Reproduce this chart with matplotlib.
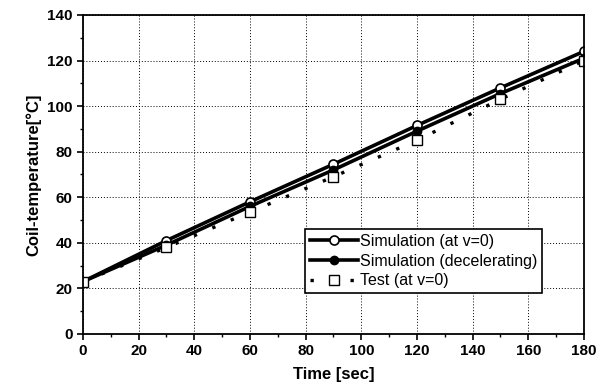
import matplotlib
matplotlib.use("Agg")
import matplotlib.pyplot as plt
from matplotlib.ticker import MultipleLocator

# data
time_s = [0, 30, 60, 90, 120, 150, 180]
sim_v0 = [23, 41, 58, 74.5, 91.5, 108, 124]
sim_decel = [23, 39, 56, 72, 89, 105.5, 121]
test_v0 = [23, 38, 53.5, 69, 85, 103, 120]

plt.rcParams["font.family"] = ["Liberation Sans", "DejaVu Sans"]

fig = plt.figure(figsize=(5.97, 3.90), dpi=100)
ax = fig.add_axes([0.139, 0.1436, 0.839, 0.818])

ax.plot(time_s, sim_v0, "k-", lw=2.6, marker="o", ms=6.5, mfc="white", mec="black",
        mew=1.2, label="Simulation (at v=0)")
ax.plot(time_s, sim_decel, "k-", lw=2.6, marker="o", ms=6, mfc="black", mec="black",
        label="Simulation (decelerating)")
ax.plot(time_s, test_v0, color="black", ls=(0, (1, 5)), lw=2.4, marker="s", ms=6.5,
        mfc="white", mec="black", mew=1.0, label="Test (at v=0)")

ax.set_xlim(0, 180)
ax.set_ylim(0, 140)
ax.xaxis.set_major_locator(MultipleLocator(20))
ax.xaxis.set_minor_locator(MultipleLocator(10))
ax.yaxis.set_major_locator(MultipleLocator(20))
ax.yaxis.set_minor_locator(MultipleLocator(10))
ax.grid(True, which="major", color="black", ls=(0, (1, 2)), lw=0.7)
ax.tick_params(which="major", direction="out", length=4, width=1.2, labelsize=11)
ax.tick_params(which="minor", direction="out", length=2.5, width=1.0)
for lbl in ax.get_xticklabels() + ax.get_yticklabels():
    lbl.set_fontweight("bold")
for sp in ax.spines.values():
    sp.set_linewidth(1.3)

ax.set_xlabel("Time [sec]", fontsize=12, fontweight="bold", labelpad=6)
ax.set_ylabel("Coil-temperature[°C]", fontsize=12, fontweight="bold", labelpad=4)

leg = ax.legend(loc="lower left", bbox_to_anchor=(0.443, 0.128), fontsize=11.5,
                frameon=True, fancybox=False, edgecolor="black", framealpha=1,
                borderpad=0.3, labelspacing=0.3, handlelength=3.0, handletextpad=0.15,
                borderaxespad=0)
leg.get_frame().set_linewidth(1.2)

fig.savefig("out.png", dpi=100)
